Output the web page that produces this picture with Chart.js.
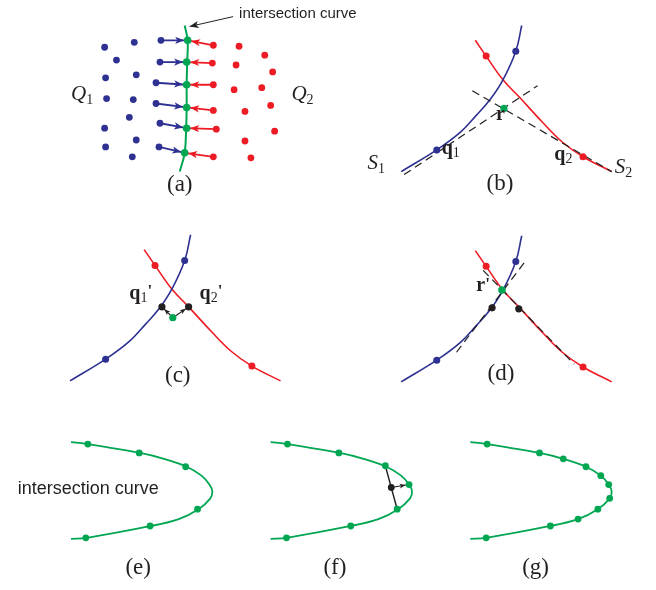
<!DOCTYPE html>
<html>
<head>
<meta charset="utf-8">
<script src="https://cdn.jsdelivr.net/npm/chart.js@4.4.1/dist/chart.umd.min.js"></script>
<style>
  body { margin: 0; background: #fff; }
  canvas { display: block; }
</style>
</head>
<body>
<canvas id="chart-1" width="656" height="590"></canvas>
<script>
// ---- data (picture coordinates, x right, y down) ----

// (a) point sets Q1, Q2 and the intersection curve
const greenCurveA = [[183, 22], [186, 37], [185.5, 60], [185, 82], [185, 105], [184.5, 126], [183, 151], [178, 170]];
const greenDotsA = [[186, 37], [185, 59], [185, 82], [185, 105], [185, 126], [183, 151]];
const blueArrowStartsA = [[159, 37], [158, 59], [154, 80], [154, 101], [158, 121], [157, 145]];
const redArrowStartsA = [[212, 42], [211, 60], [212, 82], [212, 108], [215, 127], [212, 155]];
const blueDotsA = [[102, 44], [132, 39], [114, 57], [103, 75], [134, 72], [104, 96], [131, 97], [127, 115], [102, 126], [134, 138], [103, 145], [130, 155]];
const redDotsA = [[238, 43], [264, 52], [235, 62], [272, 69], [261, 85], [233, 87], [270, 103], [244, 109], [274, 129], [244, 139], [250, 156]];
const labelArrowA = [[232, 13], [188, 23]];

// (b)-(d) surfaces S1, S2 (drawn in (b) coordinates, shifted per panel)
const blueCurve = [[402, 170], [438, 148], [462, 130], [478, 113], [492, 97], [505, 77], [518, 48], [524, 22]];
const redCurve = [[477, 37], [488, 53], [505, 77], [522, 95], [545, 120], [565, 140], [586, 155], [615, 170]];
const blueDots = [[438, 148], [518, 48]];
const redDots = [[488, 53], [586, 155]];
const tangentsB = [[[405, 173], [540, 83]], [[474, 88], [615, 170]]];
const pointR = [506, 106];
const blackDotsC = [[495, 95], [522, 95]];
const tangentsD = [[[458, 140], [529, 46]], [[485, 57], [577, 152]]];
const blackDotsD = [[494, 95], [521, 96]];
const pointRD = [504, 77];
const panelShift = { b: { dx: 0, dy: 0 }, c: { dx: -335, dy: 212 }, d: { dx: 0, dy: 213 } };

// (e)-(g) intersection curve (drawn in (e) coordinates, shifted per panel)
const loopCurve = [[68, 444], [85, 446], [138, 455], [162, 461], [185, 469], [200, 478], [208, 487], [211, 494], [209, 501], [197, 512], [177, 522], [149, 529], [84, 541], [68, 542]];
const loopDotsE = [[85, 446], [137, 455], [184, 469], [196, 512], [148, 529], [83, 541]];
const loopDotsF = [[85, 446], [137, 455], [184, 468], [208, 487], [196, 512], [149, 529], [84, 541]];
const loopDotsG = [[85, 446], [138, 455], [162, 461], [185, 469], [200, 478], [208, 487], [209, 501], [197, 512], [177, 522], [149, 529], [84, 541]];
const chordF = [[184, 468], [190, 490], [196, 512]];
const midArrowF = [[190, 490], [208, 487]];
const loopShift = { e: { dx: 0, dy: 0 }, f: { dx: 202, dy: 0 }, g: { dx: 404, dy: 0 } };

const panelTags = ["(a)", "(b)", "(c)", "(d)", "(e)", "(f)", "(g)"];
const tagX = [178, 502, 176, 503, 136, 335, 538];
const tagY = [184, 183, 377, 375, 572, 572, 572];

// ---- styles ----
const BLUE = "#2e3192";
const RED = "#ed1c24";
const GREEN = "#00a651";
const INK = "#231f20";
const SERIF = '"Liberation Serif", "Times New Roman", serif';
const SANS = '"Liberation Sans", Arial, sans-serif';

let datasets = [];
let xy = (pts, d = { dx: 0, dy: 0 }) => pts.map(([x, y]) => ({ x: x + d.dx, y: y + d.dy }));

let addCurve = (pts, color, width, dash, tension = 0.4) => {
  datasets.push({
    type: "line", data: pts, borderColor: color, borderWidth: width,
    borderDash: dash || [], tension: tension, pointRadius: 0, fill: false, order: dash ? 4 : 5,
  });
};
let addDots = (pts, color, r) => {
  datasets.push({
    type: "scatter", data: pts, pointRadius: r, pointHoverRadius: r,
    pointBackgroundColor: color, pointBorderWidth: 0, order: 1,
  });
};
let addArrow = (pts, color, width, gap, head = 7) => {
  datasets.push({
    type: "line", data: pts, borderColor: color, borderWidth: width, tension: 0,
    pointRadius: 0, fill: false, order: 3, arrow: { gap: gap, len: head, color: color },
  });
};

// (a)
addCurve(xy(greenCurveA), GREEN, 2);
blueArrowStartsA.forEach((p, i) => addArrow(xy([p, greenDotsA[i]]), BLUE, 1.8, 3.5, 9));
redArrowStartsA.forEach((p, i) => addArrow(xy([p, greenDotsA[i]]), RED, 1.8, 3.5, 9));
addArrow(xy(labelArrowA), INK, 1, 0, 9);
addDots(xy(greenDotsA), GREEN, 3.8);
addDots(xy(blueDotsA), BLUE, 3.4);
addDots(xy(redDotsA), RED, 3.4);
addDots(xy(blueArrowStartsA), BLUE, 3.4);
addDots(xy(redArrowStartsA), RED, 3.4);

// (b), (c), (d)
["b", "c", "d"].forEach((k) => {
  let d = panelShift[k];
  addCurve(xy(blueCurve, d), BLUE, 1.6);
  addCurve(xy(redCurve, d), RED, 1.6);
  addDots(xy(blueDots, d), BLUE, 3.5);
  addDots(xy(redDots, d), RED, 3.5);
});
tangentsB.forEach((t) => addCurve(xy(t), INK, 1.2, [8, 5], 0));
addDots(xy([pointR]), GREEN, 3.6);
blackDotsC.forEach((p) => addArrow(xy([pointR, p], panelShift.c), INK, 1.1, 3.5, 6));
addDots(xy(blackDotsC, panelShift.c), INK, 3.6);
addDots(xy([pointR], panelShift.c), GREEN, 3.6);
tangentsD.forEach((t) => addCurve(xy(t, panelShift.d), INK, 1.2, [8, 5], 0));
addDots(xy(blackDotsD, panelShift.d), INK, 3.6);
addDots(xy([pointRD], panelShift.d), GREEN, 3.8);

// (e), (f), (g)
addCurve(xy(loopCurve, loopShift.e), GREEN, 1.8, null, 0.35);
addCurve(xy(loopCurve, loopShift.f), GREEN, 1.8, null, 0.35);
addCurve(xy(loopCurve, loopShift.g), GREEN, 1.8, null, 0.35);
addDots(xy(loopDotsE, loopShift.e), GREEN, 3.4);
addDots(xy(loopDotsF, loopShift.f), GREEN, 3.4);
addDots(xy(loopDotsG, loopShift.g), GREEN, 3.4);
addCurve(xy(chordF, loopShift.f), INK, 1.4, null, 0);
addArrow(xy(midArrowF, loopShift.f), INK, 1.2, 3.5, 6);
addDots(xy([chordF[1]], loopShift.f), INK, 3.4);

// ---- labels ----
// each part: [text, font, dy]
let labels = [
  { x: 238, y: 14, parts: [["intersection curve", "15px " + SANS, 0]] },
  { x: 14, y: 497, parts: [["intersection curve", "18px " + SANS, 0]] },
  { x: 68, y: 97, parts: [["Q", "italic 21px " + SERIF, 0], ["1", "14px " + SERIF, 4]] },
  { x: 291, y: 97, parts: [["Q", "italic 21px " + SERIF, 0], ["2", "14px " + SERIF, 4]] },
  { x: 368, y: 167, parts: [["S", "italic 21px " + SERIF, 0], ["1", "14px " + SERIF, 4]] },
  { x: 618, y: 171, parts: [["S", "italic 21px " + SERIF, 0], ["2", "14px " + SERIF, 4]] },
  { x: 443, y: 152, parts: [["q", "bold 20px " + SERIF, 0], ["1", "14px " + SERIF, 3]] },
  { x: 557, y: 158, parts: [["q", "bold 20px " + SERIF, 0], ["2", "14px " + SERIF, 3]] },
  { x: 498, y: 118, parts: [["r", "bold 20px " + SERIF, 0]] },
  { x: 127, y: 299, parts: [["q", "bold 20px " + SERIF, 0], ["1", "14px " + SERIF, 3], ["'", "bold 17px " + SERIF, -3]] },
  { x: 198, y: 299, parts: [["q", "bold 20px " + SERIF, 0], ["2", "14px " + SERIF, 3], ["'", "bold 17px " + SERIF, -3]] },
  { x: 478, y: 291, parts: [["r", "bold 20px " + SERIF, 0], ["'", "bold 17px " + SERIF, -2]] },
];

const arrowHeads = {
  id: "arrowHeads",
  afterDatasetDraw(chart, args) {
    let ds = chart.data.datasets[args.index];
    if (!ds.arrow) return;
    let pts = args.meta.data;
    let a = pts[pts.length - 2], b = pts[pts.length - 1];
    let ang = Math.atan2(b.y - a.y, b.x - a.x);
    let tx = b.x - ds.arrow.gap * Math.cos(ang), ty = b.y - ds.arrow.gap * Math.sin(ang);
    let len = ds.arrow.len, half = len * 0.4;
    let ctx = chart.ctx;
    ctx.save();
    ctx.fillStyle = ds.arrow.color;
    ctx.beginPath();
    ctx.moveTo(tx, ty);
    ctx.lineTo(tx - len * Math.cos(ang) + half * Math.sin(ang), ty - len * Math.sin(ang) - half * Math.cos(ang));
    ctx.lineTo(tx - len * 0.75 * Math.cos(ang), ty - len * 0.75 * Math.sin(ang));
    ctx.lineTo(tx - len * Math.cos(ang) - half * Math.sin(ang), ty - len * Math.sin(ang) + half * Math.cos(ang));
    ctx.closePath();
    ctx.fill();
    ctx.restore();
  },
};

const textLabels = {
  id: "textLabels",
  afterDraw(chart) {
    let ctx = chart.ctx, sx = chart.scales.x, sy = chart.scales.y;
    ctx.save();
    ctx.fillStyle = INK;
    ctx.textBaseline = "alphabetic";
    ctx.textAlign = "left";
    labels.forEach((l) => {
      let x = sx.getPixelForValue(l.x), y = sy.getPixelForValue(l.y);
      l.parts.forEach(([t, f, dy]) => {
        ctx.font = f;
        ctx.fillText(t, x, y + dy);
        x += ctx.measureText(t).width;
      });
    });
    ctx.font = "23px " + SERIF;
    ctx.textAlign = "center";
    ctx.textBaseline = "middle";
    panelTags.forEach((t, i) => {
      ctx.fillText(t, sx.getPixelForValue(tagX[i]), sy.getPixelForValue(tagY[i]));
    });
    ctx.restore();
  },
};

const ctx1 = document.getElementById("chart-1");
const myChart1 = new Chart(ctx1, {
  type: "scatter",
  data: { datasets: datasets },
  options: {
    responsive: false,
    animation: false,
    layout: { padding: 0 },
    scales: {
      x: { type: "linear", min: 0, max: 656, display: false },
      y: { type: "linear", min: 0, max: 590, reverse: true, display: false },
    },
    plugins: {
      legend: { display: false },
      tooltip: { enabled: false },
    },
    events: [],
  },
  plugins: [arrowHeads, textLabels],
});
</script>
</body>
</html>
